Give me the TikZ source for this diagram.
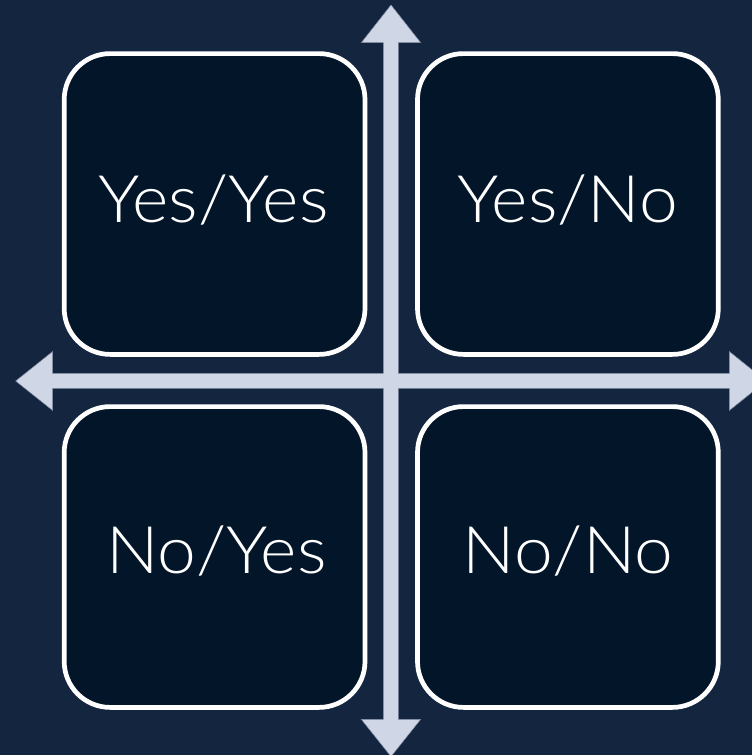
\documentclass[tikz,border=0pt]{standalone}
\usepackage{fontspec}
\setmainfont{Lato Light}[FakeStretch=1.06]
\definecolor{bgc}{HTML}{14263F}
\definecolor{boxc}{HTML}{031529}
\definecolor{axc}{HTML}{CFD6E5}
\definecolor{axedge}{HTML}{7F8BA3}
\begin{document}
\begin{tikzpicture}[x=1pt,y=-1pt,
  quad/.style={draw=white, fill=boxc, line width=4.7pt, rounded corners=46pt,
    minimum width=300.8pt, minimum height=300.8pt, inner sep=0pt},
  qtext/.style={text=white, font=\fontsize{65.6}{66}\selectfont, anchor=base, inner sep=0pt},
  axis/.style={fill=axc, draw=axedge, line width=0.5pt}]
\fill[bgc] (0,0) rectangle (752,755);
\useasboundingbox (0,0) rectangle (752,755);
% quadrants
\node[quad] (tl) at (214.6,204) {};
\node[quad] (tr) at (567.9,204) {};
\node[quad] (bl) at (214.6,557) {};
\node[quad] (br) at (567.9,557) {};
\node[qtext] (tlt) at (213.5,222) {Yes/Yes};
\node[qtext] (trt) at (567.9,222) {Yes/No};
\node[qtext] (blt) at (216.5,573.5) {No/Yes};
\node[qtext] (brt) at (567.9,573.5) {No/No};
% axes
\path[axis] (383.3,42.7) -- (361.3,42.7) -- (391,5) -- (420.7,42.7) -- (398.3,42.7)
  -- (398.3,373.3) -- (729.3,373.3) -- (729.3,351.5) -- (766,381) -- (729.3,410.5) -- (729.3,388.3)
  -- (398.3,388.3) -- (398.3,719.3) -- (420.7,719.3) -- (391,756.5) -- (361.3,719.3) -- (383.3,719.3)
  -- (383.3,388.3) -- (52.7,388.3) -- (52.7,410.5) -- (15.7,381) -- (52.7,351.5) -- (52.7,373.3)
  -- (383.3,373.3) -- cycle;
\end{tikzpicture}
\end{document}
